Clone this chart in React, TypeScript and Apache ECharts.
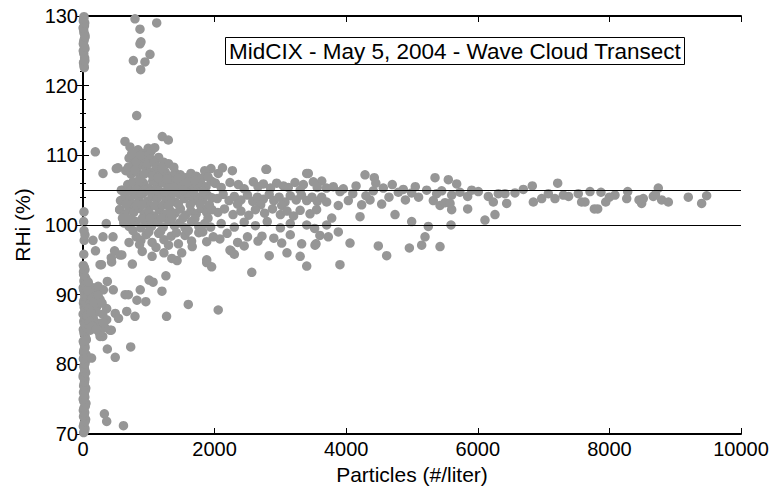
import { useEffect, useRef } from "react";
import * as echarts from "echarts";

// Near-zero particle counts (vertical column at x ~ 0)
const zeroColumn: [number, number][] = [
  [10, 70.2], [30, 70.8], [15, 71.5], [40, 72.1], [20, 72.8], [5, 73.4], [35, 74.0], [12, 74.7], [28, 75.3],
  [8, 76.0], [42, 76.6], [18, 77.2], [30, 77.9], [6, 78.5], [25, 79.2], [14, 79.8], [38, 80.5], [20, 81.1],
  [9, 81.7], [32, 82.4], [16, 83.0], [44, 83.7], [22, 84.3], [5, 85.0], [36, 85.6], [12, 86.2], [28, 86.9],
  [48, 87.5], [18, 88.2], [7, 88.8], [40, 89.4], [24, 90.1], [10, 90.7], [34, 91.4], [15, 92.0], [26, 92.6],
  [8, 93.3], [20, 93.9], [12, 95.8], [18, 97.8], [30, 98.6], [10, 100.5], [15, 101.9],
  [25, 70.5], [5, 71.1], [32, 71.8], [8, 72.5], [26, 73.1], [14, 73.7], [45, 74.4], [3, 75.0], [20, 75.7],
  [36, 76.3], [10, 76.9], [24, 77.5], [2, 78.2], [40, 78.8], [18, 79.5], [30, 80.1], [6, 80.8], [48, 81.4],
  [12, 82.0], [26, 82.7], [4, 83.3], [34, 84.0], [14, 84.6], [52, 85.3], [20, 85.9], [40, 86.5], [2, 87.2],
  [30, 87.8], [55, 88.5], [12, 89.1], [28, 89.7], [50, 90.4], [4, 91.0], [22, 91.7], [44, 92.3], [10, 92.9],
  [30, 93.6], [6, 94.2], [15, 99.2],
  [20, 122.6], [8, 123.3], [25, 124.0], [12, 124.6], [30, 125.3], [5, 126.0], [18, 126.6], [28, 127.3],
  [10, 128.0], [22, 128.6], [6, 129.3], [15, 129.9], [14, 122.9], [28, 123.6], [4, 125.0], [22, 125.6],
  [10, 126.3], [32, 127.0], [14, 127.6], [2, 128.3], [26, 129.0], [12, 129.6],
];

// Cluster of low-RHi points close to the origin
const originCluster: [number, number][] = [
  [60, 89.5], [110, 88.8], [100, 90.0], [180, 90.2], [210, 88.3], [260, 89.3], [360, 88.0], [490, 87.3],
  [540, 86.6], [360, 86.4], [260, 85.9], [410, 84.9], [260, 84.0], [110, 84.9], [80, 85.7], [370, 82.2],
  [490, 81.0], [130, 80.9], [300, 84.0], [250, 84.5], [430, 84.9], [40, 91.5], [150, 91.0], [200, 87.5],
  [310, 90.7], [460, 90.7], [370, 91.9], [640, 90.0], [690, 90.0], [160, 86.5], [60, 87.0], [230, 91.2],
  [300, 87.2], [50, 83.5], [90, 88.0], [140, 89.6], [120, 87.4], [70, 90.6], [170, 88.9], [230, 89.9],
  [100, 86.2], [330, 85.3], [290, 88.8], [80, 91.8], [140, 85.5], [200, 85.0], [310, 86.0],
];

// Sparse low and outlying points
const sparsePoints: [number, number][] = [
  [325, 72.9], [360, 71.8], [615, 71.2], [725, 82.5], [790, 86.9], [665, 87.6], [820, 89.2], [955, 89.0],
  [870, 90.7], [1005, 92.1], [1065, 91.8], [1260, 92.7], [1200, 90.5], [1600, 88.6], [2055, 87.8],
  [1270, 86.9], [260, 94.3], [435, 94.7], [590, 95.7], [750, 94.4], [1430, 94.9], [1660, 96.9],
  [1880, 94.6], [1955, 94.0], [2250, 96.3], [2565, 93.2], [280, 94.3], [190, 96.3], [480, 96.3],
  [3400, 94.1], [3905, 94.3], [152, 97.8], [304, 98.3], [456, 98.3], [354, 100.2], [557, 102.2],
  [582, 105.0], [304, 107.4], [506, 108.1], [532, 108.2], [187, 110.5],
  [790, 129.6], [866, 128.1], [881, 126.3], [866, 126.0], [1120, 129.0], [765, 123.6], [877, 122.3],
  [942, 123.4], [1018, 124.5], [816, 115.7], [638, 112.0], [1205, 112.7], [1297, 112.2],
];

// Dense core, 500 - 2000 particles/liter
const coreCluster: [number, number][] = [
  [714, 111.2], [836, 110.8], [990, 111.0], [1035, 110.6], [1090, 111.1], [900, 110.3],
  [700, 109.6], [775, 109.8], [900, 109.3], [950, 109.9], [1030, 109.5], [1150, 109.7], [1230, 109.0],
  [1300, 108.8], [850, 108.5], [760, 108.6],
  [650, 107.8], [730, 107.3], [820, 107.6], [880, 107.0], [960, 108.2], [1020, 107.5], [1100, 107.9],
  [1180, 107.2], [1250, 107.6], [1320, 107.0], [1400, 107.5], [1480, 107.2], [1560, 106.8], [1640, 107.4],
  [1720, 107.0], [1800, 106.7], [1945, 108.1], [2055, 107.4], [1850, 107.8], [1380, 108.3],
  [600, 105.0], [680, 105.8], [760, 106.2], [840, 105.5], [920, 106.0], [1000, 105.3], [1060, 106.3],
  [1130, 105.7], [1210, 106.1], [1290, 105.4], [1350, 106.2], [1430, 105.6], [1500, 106.0], [1580, 105.2],
  [1650, 105.9], [1720, 105.4], [1790, 106.0], [1870, 105.5], [1950, 106.3], [2010, 106.0], [1110, 105.0],
  [940, 105.0],
  [570, 103.5], [640, 104.2], [710, 103.6], [780, 104.4], [850, 103.8], [910, 104.5], [980, 103.4],
  [1050, 104.1], [1120, 103.7], [1190, 104.3], [1260, 103.5], [1330, 104.0], [1400, 103.3], [1470, 104.4],
  [1540, 103.8], [1610, 104.2], [1680, 103.5], [1750, 104.0], [1820, 103.6], [1890, 104.3], [1960, 103.9],
  [760, 103.0], [1000, 102.9], [1370, 104.6], [1580, 104.6],
  [560, 102.2], [640, 101.5], [700, 102.3], [770, 101.8], [850, 102.4], [930, 101.6], [1000, 102.0],
  [1080, 101.3], [1160, 102.2], [1240, 101.5], [1320, 102.1], [1400, 101.7], [1480, 102.3], [1560, 101.4],
  [1640, 102.0], [1720, 101.6], [1800, 102.4], [1880, 101.8], [1960, 102.2],
  [620, 100.3], [700, 99.8], [800, 100.5], [880, 99.6], [960, 100.2], [1040, 99.8], [1130, 100.4],
  [1220, 99.7], [1300, 100.6], [1390, 99.9], [1470, 100.3], [1550, 99.6], [1650, 100.5], [1760, 99.8],
  [1850, 100.2], [1940, 99.7],
  [810, 98.3], [880, 97.8], [960, 98.6], [1050, 97.5], [1150, 98.8], [1230, 97.9], [1340, 98.4],
  [1450, 97.3], [1550, 98.5], [1650, 97.7], [1760, 98.9], [1880, 97.6], [1980, 98.3], [700, 97.5],
  [560, 95.7], [430, 95.3], [900, 96.2], [1050, 95.5], [1230, 96.0], [1350, 95.2], [1880, 95.0],
  [2234, 96.4], [1500, 96.0],
];

// Extra points filling the densest part of the core
const coreFill: [number, number][] = [
  [740, 110.2], [810, 109.1], [870, 110.0], [990, 108.8], [1080, 109.0], [1130, 108.4], [1200, 108.2],
  [690, 108.3], [790, 107.9], [860, 106.6], [930, 107.3], [1060, 107.0], [1140, 106.8], [1280, 106.6],
  [1440, 106.7], [1600, 106.2], [1700, 106.4], [1900, 106.9], [720, 104.9], [800, 105.1], [880, 104.6],
  [1020, 104.8], [1160, 104.9], [1240, 104.7], [1310, 105.3], [1520, 105.0], [1680, 104.7], [1830, 104.8],
  [660, 103.0], [820, 102.9], [900, 102.9], [1090, 102.8], [1210, 102.8], [1300, 102.8], [1450, 103.0],
  [1630, 102.9], [1780, 103.0], [1920, 102.9], [600, 101.0], [730, 100.9], [900, 100.9], [1020, 101.0],
  [1190, 101.0], [1350, 101.0], [1520, 101.0], [1700, 100.9], [1900, 101.0], [760, 99.2], [1000, 99.0],
  [1180, 99.1], [1420, 98.9], [1600, 99.2], [1820, 99.0], [860, 97.2], [1110, 96.8], [1300, 97.1],
];

// Middle range, 2000 - 3600 particles/liter
const midCluster: [number, number][] = [
  [2270, 107.8], [2780, 108.0], [3400, 107.4], [2791, 108.0], [3424, 107.4], [2120, 108.2],
  [2006, 106.0], [2234, 106.1], [2361, 105.8], [2589, 106.2], [2741, 105.9], [2943, 106.0], [3045, 105.6],
  [3222, 106.1], [3349, 105.8], [3500, 106.2], [3628, 106.3], [2100, 105.4], [2450, 105.2], [2660, 105.5],
  [2850, 105.3], [3120, 105.4], [3300, 105.0], [3560, 105.4],
  [2040, 103.8], [2130, 104.4], [2220, 103.5], [2300, 104.1], [2400, 103.6], [2500, 104.3], [2580, 103.4],
  [2650, 104.0], [2740, 103.7], [2830, 104.4], [2900, 103.5], [2980, 104.0], [3070, 103.3], [3150, 104.2],
  [3240, 103.6], [3320, 104.3], [3400, 103.5], [3480, 104.0], [3560, 103.4], [2350, 103.0], [2700, 102.9],
  [3020, 102.8],
  [2050, 101.8], [2150, 102.3], [2280, 101.5], [2400, 102.0], [2520, 101.4], [2620, 102.2], [2760, 101.7],
  [2880, 102.3], [3000, 101.5], [3100, 102.0], [3200, 101.3], [3300, 102.1], [3450, 101.6], [3550, 102.2],
  [2100, 100.2], [2300, 99.7], [2450, 100.4], [2620, 99.9], [2800, 100.5], [3000, 99.6], [3150, 100.2],
  [3400, 100.0], [3520, 99.5],
  [2080, 98.0], [2190, 98.8], [2350, 97.5], [2500, 98.3], [2660, 97.7], [2720, 98.4], [2900, 98.1],
  [3020, 97.4], [3150, 98.6], [3323, 97.3], [3541, 97.3], [3600, 98.5], [2450, 97.0],
  [2300, 95.8], [2830, 95.6], [3100, 96.0], [3300, 95.5],
];

// Upper range, 3600 - 9500 particles/liter
const tailPoints: [number, number][] = [
  [4286, 107.2], [4427, 106.8], [5350, 106.8], [5552, 106.5], [3804, 105.5], [3906, 104.8], [3956, 105.2],
  [4412, 104.9], [4564, 105.3], [4792, 104.7], [4868, 105.1], [4995, 104.6], [5223, 105.0], [5375, 104.5],
  [5451, 104.9], [5603, 104.3], [3627, 104.0], [3703, 103.3], [3880, 102.8], [4032, 103.5], [4235, 102.9],
  [4362, 103.6], [4539, 103.0], [5324, 103.5], [5426, 102.8], [5502, 103.2], [5603, 102.2], [4210, 101.2],
  [4742, 101.5], [4995, 100.5], [5248, 99.8], [5198, 98.3], [5147, 97.1], [5426, 96.9], [4960, 96.7],
  [4488, 97.0], [4615, 95.6], [4058, 97.4], [3880, 99.0], [3728, 98.3], [3526, 97.1], [3703, 100.0],
  [3780, 101.0], [3700, 105.3], [4100, 104.5], [4150, 105.6], [4300, 104.2], [4650, 104.0], [4700, 105.8],
  [4900, 103.6], [5100, 104.0], [5050, 105.5], [4450, 106.0],
  [5679, 105.9], [5729, 104.7], [5578, 103.1], [5593, 100.0], [5846, 104.1], [5907, 105.0], [6008, 104.8],
  [5846, 102.3], [6109, 100.7], [6261, 101.5],
  [6160, 104.1], [6236, 103.3], [6312, 104.5], [6439, 103.1], [6413, 104.5], [6565, 104.6], [6692, 105.1],
  [6828, 105.6], [6844, 103.3], [6971, 103.8], [7072, 104.5], [7173, 103.8], [7214, 106.0], [7527, 104.5],
  [7578, 103.3], [7705, 104.8], [7771, 102.3],
  [7629, 103.3], [7872, 104.7], [7822, 102.3], [7944, 103.3], [8085, 104.3], [8278, 104.8], [8263, 103.8],
  [8490, 103.1], [8515, 103.8], [8667, 104.1], [8743, 105.3], [8794, 103.6], [8896, 103.3], [9199, 104.0],
  [9402, 103.1], [9478, 104.2], [8700, 104.4], [8450, 103.6], [8000, 104.0], [7380, 104.1], [7300, 104.3],
];

const referenceLevels = [100, 105];
const titleText = "MidCIX - May 5, 2004 - Wave Cloud Transect";
const xName = "Particles (#/liter)";
const yName = "RHi (%)";

export default function App() {
  const ref = useRef<HTMLDivElement>(null);
  useEffect(() => {
    if (!ref.current) return;
    const chart = echarts.init(ref.current, null, { renderer: "svg" });
    const font = "Arial, 'Liberation Sans', Helvetica, sans-serif";
    const line = { show: true, lineStyle: { color: "#000", width: 2 } };
    const tick = { show: true, inside: true, length: 6, lineStyle: { color: "#000", width: 1 } };
    const minor = { show: true, splitNumber: 5, length: 3, lineStyle: { color: "#000", width: 1 } };
    const label = {
      color: "#000", fontFamily: font, fontSize: 20, margin: 5,
      formatter: (v: number) => String(v),
    };
    const allPoints = [
      ...zeroColumn,
      ...originCluster,
      ...sparsePoints,
      ...coreCluster,
      ...coreFill,
      ...midCluster,
      ...tailPoints,
    ];
    chart.setOption({
      animation: false,
      title: {
        text: titleText,
        left: 225,
        top: 37,
        padding: [3, 4, 2, 4],
        borderColor: "#000",
        borderWidth: 1,
        textStyle: { fontFamily: font, fontSize: 22.5, fontWeight: "normal", color: "#000" },
      },
      grid: {
        left: 83, top: 16, width: 658, height: 418,
        containLabel: false, outerBoundsMode: "none",
      },
      xAxis: [
        {
          type: "value", min: 0, max: 10000, interval: 2000, position: "bottom",
          name: xName, nameLocation: "middle", nameGap: 29,
          nameTextStyle: { color: "#000", fontFamily: font, fontSize: 21 },
          axisLine: line, axisTick: tick, axisLabel: label, splitLine: { show: false },
        },
        {
          type: "value", min: 0, max: 10000, interval: 2000, position: "top",
          axisLine: line, axisTick: tick, axisLabel: { show: false }, splitLine: { show: false },
        },
      ],
      yAxis: [
        {
          type: "value", min: 70, max: 130, interval: 10, position: "left",
          name: yName, nameLocation: "middle", nameGap: 50,
          nameTextStyle: { color: "#000", fontFamily: font, fontSize: 21 },
          axisLine: line, axisTick: tick, minorTick: minor, axisLabel: label, splitLine: { show: false },
        },
        {
          type: "value", min: 70, max: 130, interval: 10, position: "right",
          axisLine: line, axisTick: tick, minorTick: minor, axisLabel: { show: false }, splitLine: { show: false },
        },
      ],
      series: [
        {
          type: "scatter",
          xAxisIndex: 0,
          yAxisIndex: 0,
          data: allPoints,
          symbol: "circle",
          symbolSize: 9.5,
          itemStyle: { color: "#969696", opacity: 1 },
          clip: false,
          markLine: {
            silent: true,
            symbol: "none",
            label: { show: false },
            lineStyle: { color: "#000", width: 1, type: "solid" },
            data: referenceLevels.map((v) => ({ yAxis: v })),
          },
        },
      ],
    });
    return () => chart.dispose();
  }, []);
  return <div ref={ref} style={{ width: 775, height: 486, position: "absolute", left: 0, top: 0 }} />;
}
